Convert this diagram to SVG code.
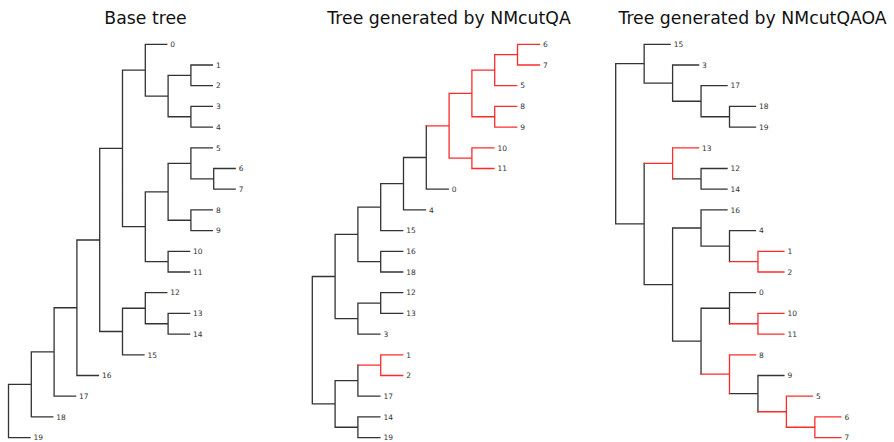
<svg xmlns="http://www.w3.org/2000/svg" width="894" height="442" viewBox="0 0 894 442">
<style>
.e{fill:none;stroke:#333;stroke-width:1.3;stroke-linecap:square}
.r{fill:none;stroke:#ff2b2b;stroke-width:1.3;stroke-linecap:square}
.l{font-family:"DejaVu Sans","Liberation Sans",sans-serif;font-size:7.5px;fill:#333}
.t{font-family:"DejaVu Sans","Liberation Sans",sans-serif;font-size:17.3px;fill:#111;text-anchor:middle}
</style>
<rect width="894" height="442" fill="#fff"/>

<text class="t" x="145.5" y="24">Base tree</text>
<text class="t" x="449" y="24">Tree generated by NMcutQA</text>
<text class="t" x="752.5" y="24">Tree generated by NMcutQAOA</text>

<!-- Tree 1 -->
<g id="tree1">
<g id="t1-connectors">
<path class="e" d="M8.5,384.44V437.6
M8.5,384.44H31.3M31.3,351.97V416.9
M31.3,351.97H54.1M54.1,307.74V396.2
M54.1,307.74H76.9M76.9,239.98V375.5
M76.9,239.98H99.7M99.7,148.45V331.51
M99.7,148.45H122.5M122.5,70.18V226.72
M99.7,331.51H122.5M122.5,308.23V354.8
M122.5,70.18H145.3M145.3,44.3V96.05
M122.5,226.72H145.3M145.3,191.79V261.65
M145.3,96.05H168.1M168.1,75.35V116.75
M168.1,75.35H190.9M190.9,65V85.7
M168.1,116.75H190.9M190.9,106.4V127.1
M145.3,191.79H168.1M168.1,163.33V220.25
M168.1,163.33H190.9M190.9,147.8V178.85
M190.9,178.85H213.7M213.7,168.5V189.2
M168.1,220.25H190.9M190.9,209.9V230.6
M145.3,261.65H168.1M168.1,251.3V272
M122.5,308.23H145.3M145.3,292.7V323.75
M145.3,323.75H168.1M168.1,313.4V334.1
M145.3,44.3H166.8
M190.9,65H212.4M190.9,85.7H212.4M190.9,106.4H212.4M190.9,127.1H212.4
M190.9,147.8H212.4M213.7,168.5H235.2M213.7,189.2H235.2
M190.9,209.9H212.4M190.9,230.6H212.4
M168.1,251.3H189.6M168.1,272H189.6
M145.3,292.7H166.8M168.1,313.4H189.6M168.1,334.1H189.6
M122.5,354.8H144M76.9,375.5H98.4M54.1,396.2H75.6M31.3,416.9H52.8M8.5,437.6H30"/>
</g>
<g id="t1-n0"><text class="l" x="170.3" y="47">0</text></g>
<g id="t1-n1"><text class="l" x="215.9" y="67.7">1</text></g>
<g id="t1-n2"><text class="l" x="215.9" y="88.4">2</text></g>
<g id="t1-n3"><text class="l" x="215.9" y="109.1">3</text></g>
<g id="t1-n4"><text class="l" x="215.9" y="129.8">4</text></g>
<g id="t1-n5"><text class="l" x="215.9" y="150.5">5</text></g>
<g id="t1-n6"><text class="l" x="238.7" y="171.2">6</text></g>
<g id="t1-n7"><text class="l" x="238.7" y="191.9">7</text></g>
<g id="t1-n8"><text class="l" x="215.9" y="212.6">8</text></g>
<g id="t1-n9"><text class="l" x="215.9" y="233.3">9</text></g>
<g id="t1-n10"><text class="l" x="193.1" y="254">10</text></g>
<g id="t1-n11"><text class="l" x="193.1" y="274.7">11</text></g>
<g id="t1-n12"><text class="l" x="170.3" y="295.4">12</text></g>
<g id="t1-n13"><text class="l" x="193.1" y="316.1">13</text></g>
<g id="t1-n14"><text class="l" x="193.1" y="336.8">14</text></g>
<g id="t1-n15"><text class="l" x="147.5" y="357.5">15</text></g>
<g id="t1-n16"><text class="l" x="101.9" y="378.2">16</text></g>
<g id="t1-n17"><text class="l" x="79.1" y="398.9">17</text></g>
<g id="t1-n18"><text class="l" x="56.3" y="419.6">18</text></g>
<g id="t1-n19"><text class="l" x="33.5" y="440.3">19</text></g>
</g>

<!-- Tree 2 -->
<g id="tree2">
<g id="t2-connectors">
<path class="e" d="M312.3,276.49V403.96
M312.3,276.49H335.1M335.1,234.4V318.58
M335.1,234.4H357.9M357.9,207.15V261.65
M357.9,207.15H380.7M380.7,183.7V230.6
M380.7,183.7H403.5M403.5,157.5V209.9
M403.5,157.5H426.3M426.3,125.8V189.2
M426.3,189.2H448.3M403.5,209.9H425.5M380.7,230.6H402.7
M357.9,261.65H380.7M380.7,251.3V272M380.7,251.3H402.7M380.7,272H402.7
M335.1,318.58H357.9M357.9,303.05V334.1
M357.9,303.05H380.7M380.7,292.7V313.4M380.7,292.7H402.7M380.7,313.4H402.7
M357.9,334.1H379.9
M312.3,403.96H335.1M335.1,380.68V427.25
M335.1,380.68H357.9M357.9,365.15V396.2
M357.9,396.2H379.9
M335.1,427.25H357.9M357.9,416.9V437.6M357.9,416.9H379.9M357.9,437.6H379.9"/>
<path class="r" d="M426.3,125.8H449.1M449.1,93.46V158.15
M449.1,93.46H471.9M471.9,70.18V116.75
M471.9,70.18H494.7M494.7,54.65V85.7
M494.7,54.65H517.5M517.5,44.3V65
M517.5,44.3H539.5M517.5,65H539.5M494.7,85.7H516.7
M471.9,116.75H494.7M494.7,106.4V127.1M494.7,106.4H516.7M494.7,127.1H516.7
M449.1,158.15H471.9M471.9,147.8V168.5M471.9,147.8H493.9M471.9,168.5H493.9
M357.9,365.15H380.7M380.7,354.8V375.5M380.7,354.8H402.7M380.7,375.5H402.7"/>
</g>
<g id="t2-n6"><text class="l" x="543" y="47">6</text></g>
<g id="t2-n7"><text class="l" x="543" y="67.7">7</text></g>
<g id="t2-n5"><text class="l" x="520.2" y="88.4">5</text></g>
<g id="t2-n8"><text class="l" x="520.2" y="109.1">8</text></g>
<g id="t2-n9"><text class="l" x="520.2" y="129.8">9</text></g>
<g id="t2-n10"><text class="l" x="497.4" y="150.5">10</text></g>
<g id="t2-n11"><text class="l" x="497.4" y="171.2">11</text></g>
<g id="t2-n0"><text class="l" x="451.8" y="191.9">0</text></g>
<g id="t2-n4"><text class="l" x="429" y="212.6">4</text></g>
<g id="t2-n15"><text class="l" x="406.2" y="233.3">15</text></g>
<g id="t2-n16"><text class="l" x="406.2" y="254">16</text></g>
<g id="t2-n18"><text class="l" x="406.2" y="274.7">18</text></g>
<g id="t2-n12"><text class="l" x="406.2" y="295.4">12</text></g>
<g id="t2-n13"><text class="l" x="406.2" y="316.1">13</text></g>
<g id="t2-n3"><text class="l" x="383.4" y="336.8">3</text></g>
<g id="t2-n1"><text class="l" x="406.2" y="357.5">1</text></g>
<g id="t2-n2"><text class="l" x="406.2" y="378.2">2</text></g>
<g id="t2-n17"><text class="l" x="383.4" y="398.9">17</text></g>
<g id="t2-n14"><text class="l" x="383.4" y="419.6">14</text></g>
<g id="t2-n19"><text class="l" x="383.4" y="440.3">19</text></g>
</g>

<!-- Tree 3 -->
<g id="tree3">
<g id="t3-connectors">
<path class="e" d="M615.7,63.71V223.97
M615.7,63.71H644.15M644.15,44.3V83.11M644.15,44.3H670.15
M644.15,83.11H672.6M672.6,65V101.23M672.6,65H698.6
M672.6,101.23H701.05M701.05,85.7V116.75M701.05,85.7H727.05
M701.05,116.75H729.5M729.5,106.4V127.1M729.5,106.4H755.5M729.5,127.1H755.5
M615.7,223.97H644.15M644.15,163.33V284.6
M672.6,178.85H701.05M701.05,168.5V189.2M701.05,168.5H727.05M701.05,189.2H727.05
M644.15,284.6H672.6M672.6,228V341.2
M672.6,228H701.05M701.05,209.9V246.13M701.05,209.9H727.05
M701.05,246.13H729.5M729.5,230.6V261.65M729.5,230.6H755.5
M672.6,341.2H701.05M701.05,308.23V374.2
M701.05,308.23H729.5M729.5,292.7V323.75M729.5,292.7H755.5
M729.5,393.6H757.95M757.95,375.5V411.73M757.95,375.5H783.95"/>
<path class="r" d="M644.15,163.33H672.6M672.6,147.8V178.85M672.6,147.8H698.6
M729.5,261.65H757.95M757.95,251.3V272M757.95,251.3H783.95M757.95,272H783.95
M729.5,323.75H757.95M757.95,313.4V334.1M757.95,313.4H783.95M757.95,334.1H783.95
M701.05,374.2H729.5M729.5,354.8V393.6M729.5,354.8H755.5
M757.95,411.73H786.4M786.4,396.2V427.25M786.4,396.2H812.4
M786.4,427.25H814.85M814.85,416.9V437.6M814.85,416.9H840.85M814.85,437.6H840.85"/>
</g>
<g id="t3-n15"><text class="l" x="673.7" y="47">15</text></g>
<g id="t3-n3"><text class="l" x="702.1" y="67.7">3</text></g>
<g id="t3-n17"><text class="l" x="730.6" y="88.4">17</text></g>
<g id="t3-n18"><text class="l" x="759" y="109.1">18</text></g>
<g id="t3-n19"><text class="l" x="759" y="129.8">19</text></g>
<g id="t3-n13"><text class="l" x="702.1" y="150.5">13</text></g>
<g id="t3-n12"><text class="l" x="730.6" y="171.2">12</text></g>
<g id="t3-n14"><text class="l" x="730.6" y="191.9">14</text></g>
<g id="t3-n16"><text class="l" x="730.6" y="212.6">16</text></g>
<g id="t3-n4"><text class="l" x="759" y="233.3">4</text></g>
<g id="t3-n1"><text class="l" x="787.5" y="254">1</text></g>
<g id="t3-n2"><text class="l" x="787.5" y="274.7">2</text></g>
<g id="t3-n0"><text class="l" x="759" y="295.4">0</text></g>
<g id="t3-n10"><text class="l" x="787.5" y="316.1">10</text></g>
<g id="t3-n11"><text class="l" x="787.5" y="336.8">11</text></g>
<g id="t3-n8"><text class="l" x="759" y="357.5">8</text></g>
<g id="t3-n9"><text class="l" x="787.5" y="378.2">9</text></g>
<g id="t3-n5"><text class="l" x="815.9" y="398.9">5</text></g>
<g id="t3-n6"><text class="l" x="844.4" y="419.6">6</text></g>
<g id="t3-n7"><text class="l" x="844.4" y="440.3">7</text></g>
</g>
</svg>
